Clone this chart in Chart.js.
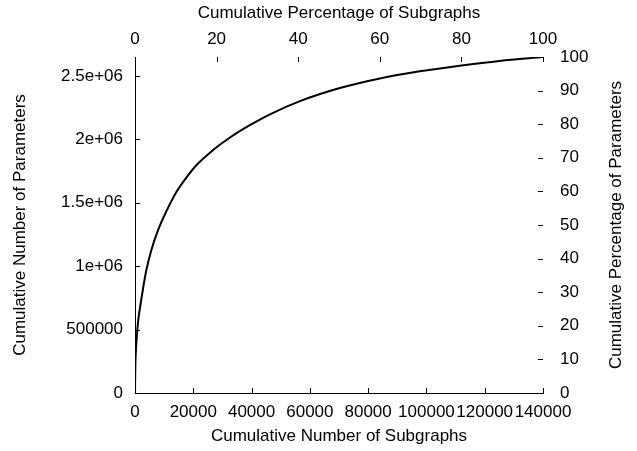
<!DOCTYPE html>
<html>
<head>
<meta charset="utf-8">
<script src="https://cdn.jsdelivr.net/npm/chart.js@4/dist/chart.umd.min.js"></script>
<style>
html,body{margin:0;padding:0;background:#fff;}
canvas{display:block;}
</style>
</head>
<body>
<canvas id="c" width="637" height="451"></canvas>
<script>
// Cumulative number of subgraphs (x) and cumulative number of parameters (y)
const subgraphs = [0, 100, 300, 700, 1200, 1900, 2800, 3900, 5600, 7900, 10700, 14200, 17500, 21200, 26900, 32600, 39400, 46300, 56600, 70300, 84000, 97700, 111400, 125100, 140000];
const params    = [0, 200000, 330000, 470000, 590000, 700000, 830000, 970000, 1126000, 1284000, 1430000, 1585000, 1695000, 1800000, 1918000, 2015000, 2112000, 2198000, 2302000, 2405000, 2481000, 2537000, 2581000, 2619000, 2650000];

const totalSubgraphs = 140000;
const totalParams = 2650000;

const xTicks = [0, 20000, 40000, 60000, 80000, 100000, 120000, 140000];
const xTickLabels = ['0', '20000', '40000', '60000', '80000', '100000', '120000', '140000'];
const yTicks = [0, 500000, 1000000, 1500000, 2000000, 2500000];
const yTickLabels = ['0', '500000', '1e+06', '1.5e+06', '2e+06', '2.5e+06'];
const topTicks = [0, 20, 40, 60, 80, 100];
const topTickLabels = ['0', '20', '40', '60', '80', '100'];
const rightTicks = [0, 10, 20, 30, 40, 50, 60, 70, 80, 90, 100];
const rightTickLabels = ['0', '10', '20', '30', '40', '50', '60', '70', '80', '90', '100'];

const xTitle = 'Cumulative Number of Subgraphs';
const x2Title = 'Cumulative Percentage of Subgraphs';
const yTitle = 'Cumulative Number of Parameters';
const y2Title = 'Cumulative Percentage of Parameters';

const FONT = {family: "'Liberation Sans', Arial, Helvetica, sans-serif", size: 17};
Chart.defaults.color = '#000';
Chart.defaults.font.family = FONT.family;
Chart.defaults.font.size = FONT.size;

function setTicks(values) {
  return function(scale) { scale.ticks = values.map(v => ({value: v})); };
}

const inwardTicks = {
  id: 'inwardTicks',
  afterDraw(chart) {
    const {ctx, chartArea: a, scales} = chart;
    const L = 5;
    ctx.save();
    ctx.strokeStyle = '#000';
    ctx.lineWidth = 1;
    ctx.beginPath();
    scales.x.ticks.forEach(t => {
      const p = Math.round(scales.x.getPixelForValue(t.value)) + 0.5;
      ctx.moveTo(p, a.bottom); ctx.lineTo(p, a.bottom - L);
    });
    scales.x2.ticks.forEach(t => {
      const p = Math.round(scales.x2.getPixelForValue(t.value)) + 0.5;
      ctx.moveTo(p, a.top); ctx.lineTo(p, a.top + L);
    });
    scales.y.ticks.forEach(t => {
      const p = Math.round(scales.y.getPixelForValue(t.value)) + 0.5;
      ctx.moveTo(a.left, p); ctx.lineTo(a.left + L, p);
    });
    scales.y2.ticks.forEach(t => {
      const p = Math.round(scales.y2.getPixelForValue(t.value)) + 0.5;
      ctx.moveTo(a.right, p); ctx.lineTo(a.right - L, p);
    });
    ctx.stroke();
    // right axis title, reading bottom-to-top
    ctx.font = FONT.size + 'px ' + FONT.family;
    ctx.fillStyle = '#000';
    ctx.textAlign = 'center';
    ctx.textBaseline = 'middle';
    ctx.translate(616, (a.top + a.bottom) / 2);
    ctx.rotate(-Math.PI / 2);
    ctx.fillText(y2Title, 0, 0);
    ctx.restore();
  }
};

const noGrid = {display: true, drawOnChartArea: false, drawTicks: false};

new Chart(document.getElementById('c'), {
  type: 'line',
  data: {
    datasets: [{
      data: subgraphs.map((s, i) => ({x: s, y: params[i]})),
      borderColor: '#000',
      borderWidth: 2,
      pointRadius: 0,
      fill: false,
      cubicInterpolationMode: 'monotone',
      xAxisID: 'x',
      yAxisID: 'y'
    }]
  },
  options: {
    responsive: false,
    animation: false,
    devicePixelRatio: 1,
    layout: {padding: 0},
    plugins: {legend: {display: false}, tooltip: {enabled: false}},
    scales: {
      x: {
        type: 'linear', position: 'bottom', min: 0, max: totalSubgraphs,
        afterBuildTicks: setTicks(xTicks),
        afterFit(s) { s.height = 58; },
        grid: noGrid,
        border: {display: true, color: '#000', width: 1},
        ticks: {autoSkip: false, maxRotation: 0, minRotation: 0, padding: 9,
                callback: (v, i) => xTickLabels[i]},
        title: {display: true, text: xTitle, padding: {top: 0, bottom: 4}}
      },
      x2: {
        type: 'linear', position: 'top', min: 0, max: 100,
        afterBuildTicks: setTicks(topTicks),
        afterFit(s) { s.height = 57; },
        grid: noGrid,
        border: {display: false},
        ticks: {autoSkip: false, maxRotation: 0, minRotation: 0, padding: 7,
                callback: (v, i) => topTickLabels[i]},
        title: {display: true, text: x2Title, padding: {top: 3, bottom: 0}}
      },
      y: {
        type: 'linear', position: 'left', min: 0, max: totalParams,
        afterBuildTicks: setTicks(yTicks),
        afterFit(s) { s.width = 135; },
        grid: noGrid,
        border: {display: true, color: '#000', width: 1},
        ticks: {autoSkip: false, padding: 12,
                callback: (v, i) => yTickLabels[i]},
        title: {display: true, text: yTitle, padding: {top: 10, bottom: 0}}
      },
      y2: {
        type: 'linear', position: 'right', min: 0, max: 100,
        afterBuildTicks: setTicks(rightTicks),
        afterFit(s) { s.width = 94; },
        grid: noGrid,
        border: {display: false},
        ticks: {autoSkip: false, padding: 17,
                callback: (v, i) => rightTickLabels[i]},
        title: {display: false}
      }
    }
  },
  plugins: [inwardTicks]
});
</script>
</body>
</html>
